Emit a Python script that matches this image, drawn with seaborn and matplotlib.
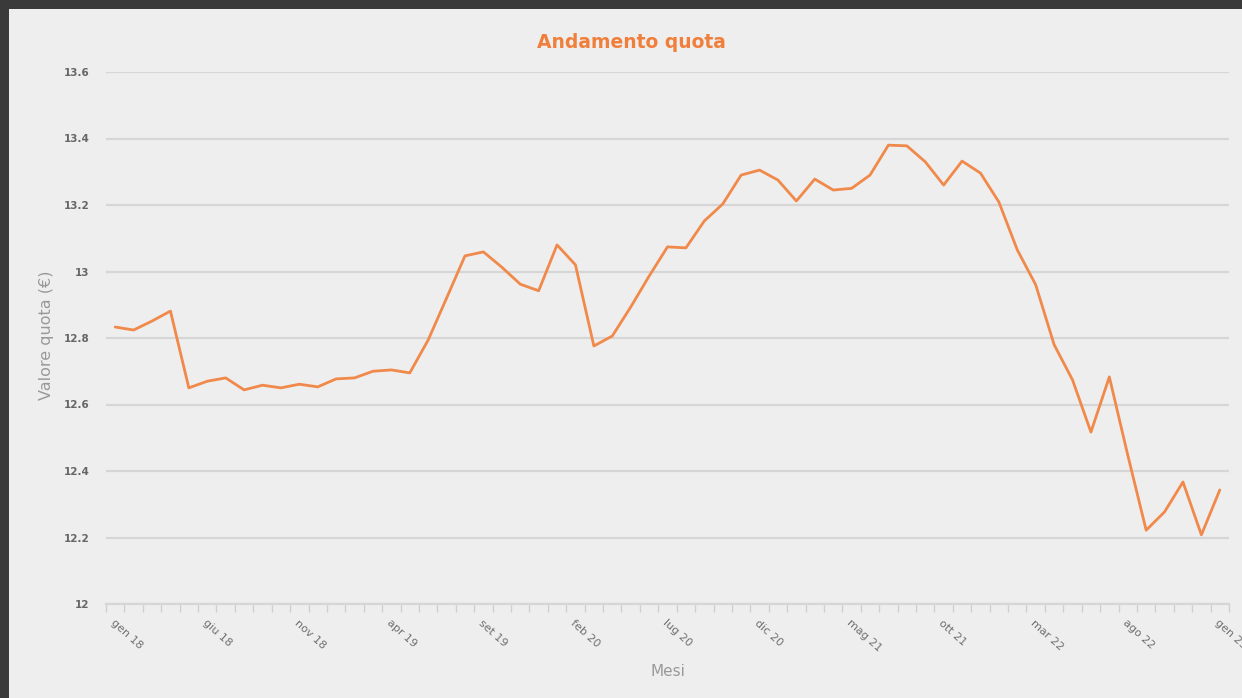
import numpy as np
import pandas as pd
import matplotlib
matplotlib.use("Agg")
import matplotlib.pyplot as plt
from matplotlib.patches import Rectangle
import seaborn as sns

month_names = ["gen", "feb", "mar", "apr", "mag", "giu", "lug", "ago", "set", "ott", "nov", "dic"]
months = [f"{month_names[m]} {y}" for y in range(18, 23) for m in range(12)] + ["gen 23"]

values = [12.833, 12.824, 12.851, 12.881, 12.650, 12.670, 12.680, 12.644, 12.658, 12.650,
          12.661, 12.653, 12.677, 12.680, 12.700, 12.704, 12.695, 12.794, 12.920, 13.047,
          13.059, 13.013, 12.962, 12.942, 13.080, 13.020, 12.776, 12.806, 12.893, 12.986,
          13.074, 13.071, 13.152, 13.203, 13.290, 13.305, 13.275, 13.212, 13.278, 13.245,
          13.250, 13.290, 13.380, 13.378, 13.330, 13.260, 13.332, 13.296, 13.209, 13.065,
          12.960, 12.780, 12.674, 12.517, 12.683, 12.448, 12.222, 12.277, 12.367, 12.208,
          12.343]

yticks = [12.0, 12.2, 12.4, 12.6, 12.8, 13.0, 13.2, 13.4, 13.6]
ytick_labels = ["12", "12.2", "12.4", "12.6", "12.8", "13", "13.2", "13.4", "13.6"]

df = pd.DataFrame({"idx": np.arange(len(values)), "mese": months, "valore": values})

sns.set_theme(style="white")
plt.rcParams["font.family"] = ["DejaVu Sans"]

W, H = 1242, 698
fig = plt.figure(figsize=(W / 100, H / 100), dpi=100, facecolor="#3a3a3a")
fig.patches.append(Rectangle((9 / W, 0), 1 - 9 / W, 1 - 9 / H, transform=fig.transFigure,
                             facecolor="#eeeeee", edgecolor="none", zorder=-10))

ax = fig.add_axes([106 / W, 1 - 604 / H, (1229 - 106) / W, (604 - 72) / H])
ax.set_zorder(5)
ax.set_facecolor("#eeeeee")

sns.lineplot(data=df, x="idx", y="valore", ax=ax, color="#f0894a", linewidth=2.0)

n = len(values)
ax.set_xlim(-0.5, n - 0.5)
ax.set_ylim(12.0, 13.6)
ax.set_yticks(yticks)
ax.set_yticklabels(ytick_labels)
ax.grid(axis="y", color="#d6d6d6", linewidth=1.6)
ax.grid(axis="x", visible=False)
ax.set_axisbelow(True)

major = list(range(0, n, 5))
ax.set_xticks(major)
ax.set_xticklabels([months[i] for i in major], rotation=-42, ha="left", va="top",
                   rotation_mode="anchor", fontsize=8, color="#707070")
ax.set_xticks(np.arange(-0.5, n, 1.0), minor=True)
ax.tick_params(axis="x", which="major", length=0, pad=10)
ax.tick_params(axis="x", which="minor", length=6, color="#d0d0d0", width=1, bottom=True)
ax.tick_params(axis="y", length=0, pad=12, labelsize=7.5, labelcolor="#666666")
for t in ax.get_yticklabels():
    t.set_fontweight("bold")

for s in ["top", "right", "left"]:
    ax.spines[s].set_visible(False)
ax.spines["bottom"].set_color("#d6d6d6")
ax.spines["bottom"].set_linewidth(1.6)

ax.set_xlabel("Mesi", color="#999999", fontsize=11)
ax.xaxis.set_label_coords((668 - 106) / (1229 - 106), -(671 - 604) / (604 - 72))
ax.set_ylabel("Valore quota (€)", color="#999999", fontsize=11.5)
ax.yaxis.set_label_coords(-(106 - 47) / (1229 - 106), (604 - 335) / (604 - 72))
ax.xaxis.label.set_va("center")
ax.yaxis.label.set_va("center")

fig.text(631 / W, 1 - 43 / H, "Andamento quota", ha="center", va="center",
         color="#f07f3c", fontsize=13.5, fontweight="bold")

fig.savefig("out.png", dpi=100, facecolor=fig.get_facecolor())
